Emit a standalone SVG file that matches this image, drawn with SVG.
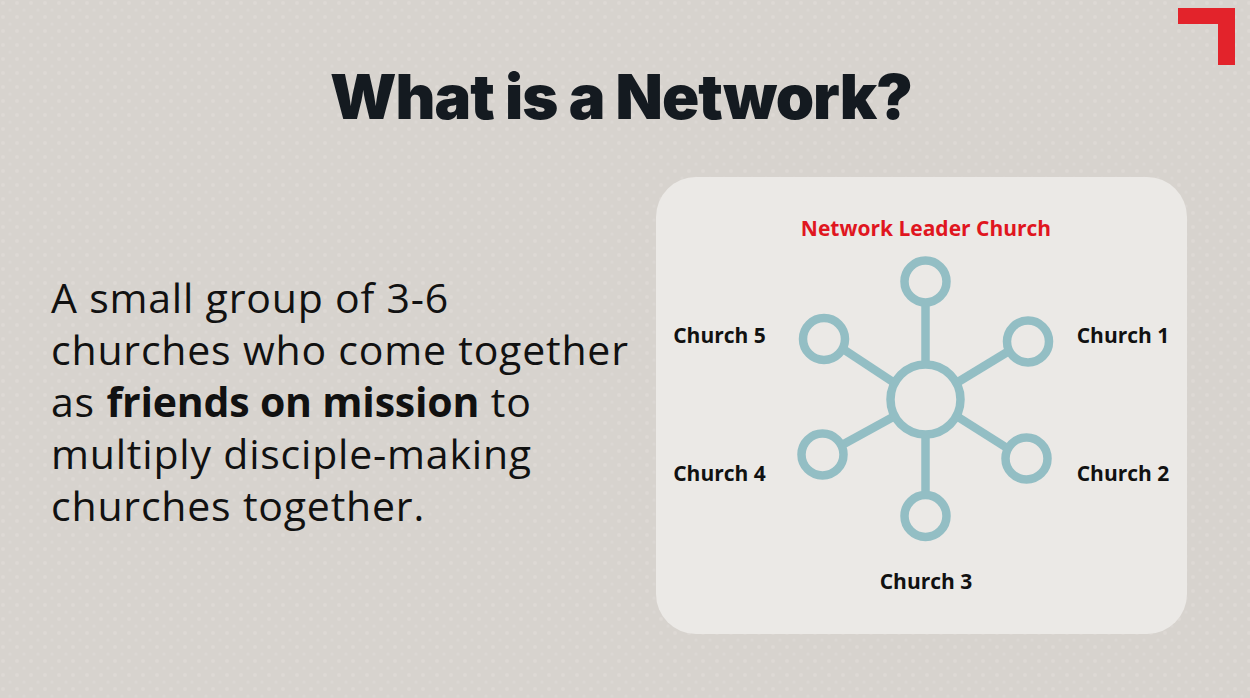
<svg xmlns="http://www.w3.org/2000/svg" width="1250" height="698" viewBox="0 0 1250 698">
<defs>
<pattern id="dots" width="14" height="14" patternUnits="userSpaceOnUse">
<circle cx="3" cy="3" r="2" fill="#e0dcd7" opacity="0.7"/>
<circle cx="10" cy="10" r="1.5" fill="#e0dcd7" opacity="0.5"/>
</pattern>
<style>
.hub{fill:none;stroke:#93bec4;stroke-width:8.5}
.spoke{stroke:#93bec4;stroke-width:8.5;stroke-linecap:butt}
.lbl{font-family:"Open Sans","Liberation Sans",sans-serif;font-weight:700;font-size:21px;fill:#111;text-anchor:middle}
.body{font-family:"Open Sans","Liberation Sans",sans-serif;font-size:41px;letter-spacing:0.8px;fill:#111}
</style>
</defs>
<rect width="1250" height="698" fill="#d7d3ce"/>
<rect width="1250" height="698" fill="url(#dots)"/>
<path d="M1178 8 H1235 V65 H1218 V24 H1178 Z" fill="#e3232b"/>
<text x="621" y="119" text-anchor="middle" font-family="Inter,'Liberation Sans',sans-serif" font-weight="900" font-size="61.5" letter-spacing="-1" fill="#141a20">What is a Network?</text>
<g id="bodytext">
<text class="body" x="51" y="313">A small group of 3-6</text>
<text class="body" x="51" y="365">churches who come together</text>
<text class="body" x="51" y="417">as <tspan font-weight="700" letter-spacing="-0.2">friends on mission</tspan> to</text>
<text class="body" x="51" y="469">multiply disciple-making</text>
<text class="body" x="51" y="521">churches together.</text>
</g>
<rect id="panel" x="656" y="177" width="531" height="457" rx="40" fill="#ebe9e6"/>
<g id="connectors">
<line class="spoke" x1="925.5" y1="364" x2="925.5" y2="302"/>
<line class="spoke" x1="925.5" y1="435" x2="925.5" y2="495"/>
<line class="spoke" x1="958" y1="382" x2="1009" y2="351"/>
<line class="spoke" x1="893" y1="382" x2="843" y2="349"/>
<line class="spoke" x1="893" y1="417" x2="842" y2="445"/>
<line class="spoke" x1="958" y1="417" x2="1007" y2="448"/>
</g>
<g id="hub"><circle class="hub" cx="925.5" cy="399.5" r="35"/></g>
<g id="church-top"><circle class="hub" cx="925.5" cy="281.5" r="21"/></g>
<g id="church-1"><circle class="hub" cx="1028" cy="341.5" r="21"/></g>
<g id="church-5"><circle class="hub" cx="824" cy="339" r="21"/></g>
<g id="church-4"><circle class="hub" cx="822.5" cy="454.5" r="21"/></g>
<g id="church-2"><circle class="hub" cx="1026.5" cy="458.5" r="21"/></g>
<g id="church-3"><circle class="hub" cx="925.5" cy="516" r="21"/></g>
<g id="labels">
<text class="lbl" x="926" y="236" style="fill:#e0161f">Network Leader Church</text>
<text class="lbl" x="719.5" y="343">Church 5</text>
<text class="lbl" x="1123" y="343">Church 1</text>
<text class="lbl" x="719.5" y="481">Church 4</text>
<text class="lbl" x="1123" y="481">Church 2</text>
<text class="lbl" x="926" y="589">Church 3</text>
</g>
</svg>
